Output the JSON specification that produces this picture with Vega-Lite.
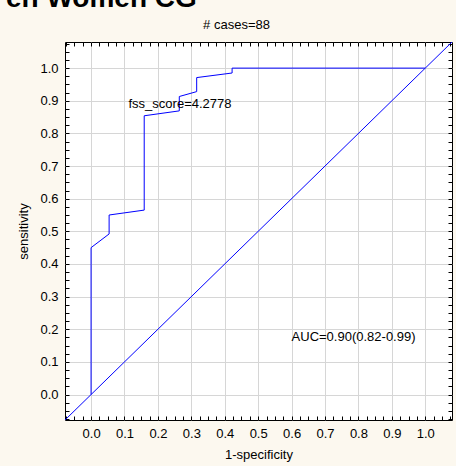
{
  "$schema": "https://vega.github.io/schema/vega-lite/v6.json",
  "autosize": {"type": "none"},
  "width": 387,
  "height": 378,
  "padding": {"left": 65, "top": 42, "right": 4, "bottom": 46},
  "background": "#fcf8ef",
  "title": {"text": "en Women CG", "font": "Liberation Sans", "fontSize": 28, "fontWeight": "bold", "color": "#000000", "anchor": "start", "dx": -12, "dy": 16, "offset": 0, "baseline": "alphabetic"},
  "config": {
    "view": {"fill": "#ffffff", "stroke": "#000000", "strokeWidth": 1},
    "axis": {"labelFont": "Liberation Sans", "titleFont": "Liberation Sans", "labelFontSize": 13, "titleFontSize": 13, "titleFontWeight": "normal", "labelColor": "#000000", "titleColor": "#000000", "tickColor": "#000000", "domain": false}
  },
  "datasets": {
    "roc": [
      {"fpr": 0.0, "tpr": 0.0},
      {"fpr": 0.0, "tpr": 0.45},
      {"fpr": 0.054, "tpr": 0.492},
      {"fpr": 0.054, "tpr": 0.55},
      {"fpr": 0.159, "tpr": 0.565},
      {"fpr": 0.159, "tpr": 0.854},
      {"fpr": 0.264, "tpr": 0.869},
      {"fpr": 0.264, "tpr": 0.913},
      {"fpr": 0.316, "tpr": 0.928},
      {"fpr": 0.316, "tpr": 0.971},
      {"fpr": 0.422, "tpr": 0.985},
      {"fpr": 0.422, "tpr": 1.0},
      {"fpr": 1.0, "tpr": 1.0}
    ],
    "diag": [
      {"fpr": -0.078, "tpr": -0.078},
      {"fpr": 1.08, "tpr": 1.08}
    ],
    "notes": [
      {"fpr": 0.112, "tpr": 0.891, "label": "fss_score=4.2778"},
      {"fpr": 0.60, "tpr": 0.175, "label": "AUC=0.90(0.82-0.99)"}
    ]
  },
  "resolve": {"axis": {"x": "independent", "y": "independent"}},
  "layer": [
    {
      "data": {"name": "roc"},
      "mark": {"type": "line", "color": "#0000ff", "strokeWidth": 1, "clip": true},
      "encoding": {
        "x": {"field": "fpr", "type": "quantitative", "scale": {"domain": [-0.078, 1.08], "nice": false, "zero": false},
          "axis": {"orient": "bottom", "title": "1-specificity", "titlePadding": 8,
            "values": [-0.075, -0.05, -0.025, 0, 0.025, 0.05, 0.075, 0.1, 0.125, 0.15, 0.175, 0.2, 0.225, 0.25, 0.275, 0.3, 0.325, 0.35, 0.375, 0.4, 0.425, 0.45, 0.475, 0.5, 0.525, 0.55, 0.575, 0.6, 0.625, 0.65, 0.675, 0.7, 0.725, 0.75, 0.775, 0.8, 0.825, 0.85, 0.875, 0.9, 0.925, 0.95, 0.975, 1.0, 1.025, 1.05, 1.075],
            "labelExpr": "abs(datum.value*10 - round(datum.value*10)) < 0.001 ? format(datum.value, '.1f') : ''",
            "tickSize": -4, "labelPadding": 11, "labelFlush": false, "labelOverlap": false,
            "grid": true, "gridColor": "#d6d6d6", "gridWidth": 1,
            "gridOpacity": {"condition": {"test": "abs(datum.value*10 - round(datum.value*10)) < 0.001", "value": 1}, "value": 0}}},
        "y": {"field": "tpr", "type": "quantitative", "scale": {"domain": [-0.078, 1.08], "nice": false, "zero": false},
          "axis": {"orient": "left", "title": "sensitivity", "titlePadding": 9,
            "values": [-0.075, -0.05, -0.025, 0, 0.025, 0.05, 0.075, 0.1, 0.125, 0.15, 0.175, 0.2, 0.225, 0.25, 0.275, 0.3, 0.325, 0.35, 0.375, 0.4, 0.425, 0.45, 0.475, 0.5, 0.525, 0.55, 0.575, 0.6, 0.625, 0.65, 0.675, 0.7, 0.725, 0.75, 0.775, 0.8, 0.825, 0.85, 0.875, 0.9, 0.925, 0.95, 0.975, 1.0, 1.025, 1.05, 1.075],
            "labelExpr": "abs(datum.value*10 - round(datum.value*10)) < 0.001 ? format(datum.value, '.1f') : ''",
            "tickSize": -4, "labelPadding": 11, "labelFlush": false, "labelOverlap": false,
            "grid": true, "gridColor": "#d6d6d6", "gridWidth": 1,
            "gridOpacity": {"condition": {"test": "abs(datum.value*10 - round(datum.value*10)) < 0.001", "value": 1}, "value": 0}}}
      }
    },
    {
      "data": {"name": "diag"},
      "mark": {"type": "line", "color": "#0000ff", "strokeWidth": 1, "clip": true},
      "encoding": {
        "x": {"field": "fpr", "type": "quantitative",
          "axis": {"orient": "top", "title": "# cases=88", "titleX": 171, "titlePadding": 10, "labels": false, "grid": false,
            "values": [-0.075, -0.05, -0.025, 0, 0.025, 0.05, 0.075, 0.1, 0.125, 0.15, 0.175, 0.2, 0.225, 0.25, 0.275, 0.3, 0.325, 0.35, 0.375, 0.4, 0.425, 0.45, 0.475, 0.5, 0.525, 0.55, 0.575, 0.6, 0.625, 0.65, 0.675, 0.7, 0.725, 0.75, 0.775, 0.8, 0.825, 0.85, 0.875, 0.9, 0.925, 0.95, 0.975, 1.0, 1.025, 1.05, 1.075],
            "tickSize": -4}},
        "y": {"field": "tpr", "type": "quantitative",
          "axis": {"orient": "right", "title": null, "labels": false, "grid": false,
            "values": [-0.075, -0.05, -0.025, 0, 0.025, 0.05, 0.075, 0.1, 0.125, 0.15, 0.175, 0.2, 0.225, 0.25, 0.275, 0.3, 0.325, 0.35, 0.375, 0.4, 0.425, 0.45, 0.475, 0.5, 0.525, 0.55, 0.575, 0.6, 0.625, 0.65, 0.675, 0.7, 0.725, 0.75, 0.775, 0.8, 0.825, 0.85, 0.875, 0.9, 0.925, 0.95, 0.975, 1.0, 1.025, 1.05, 1.075],
            "tickSize": -4}}
      }
    },
    {
      "data": {"name": "notes"},
      "mark": {"type": "text", "font": "Liberation Sans", "fontSize": 13, "color": "#000000", "align": "left", "baseline": "middle"},
      "encoding": {
        "x": {"field": "fpr", "type": "quantitative", "axis": null},
        "y": {"field": "tpr", "type": "quantitative", "axis": null},
        "text": {"field": "label"}
      }
    }
  ]
}
